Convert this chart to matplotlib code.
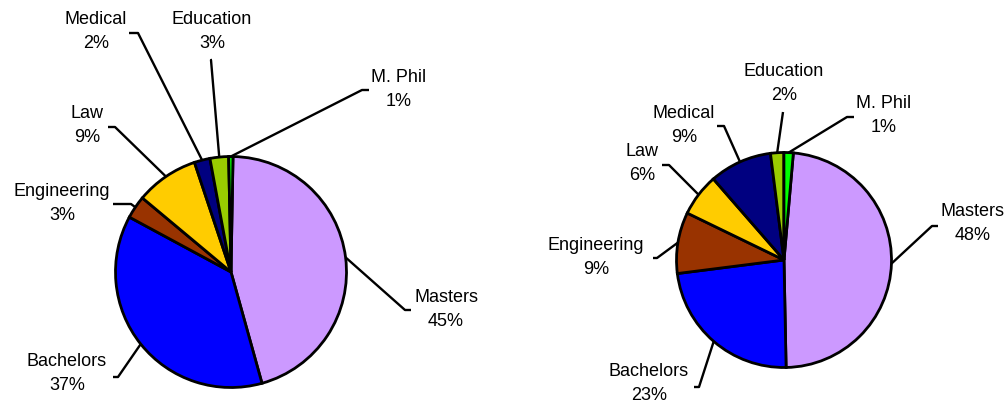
import matplotlib
matplotlib.use("Agg")
import matplotlib.pyplot as plt
import numpy as np

plt.rcParams["font.family"] = ["Liberation Sans", "DejaVu Sans"]

# ---- data ----
categories = ["Masters", "Bachelors", "Engineering", "Law", "Medical", "Education", "M. Phil"]
left_values = [45.4, 37.2, 3.2, 8.8, 2.2, 2.6, 0.6]
right_values = [48.3, 23.3, 9.2, 6.4, 9.4, 2.0, 1.4]
colors = ["#CC99FF", "#0000FF", "#993300", "#FFCC00", "#000080", "#99CC00", "#00FF00"]

# ---- layout (pixel positions, y measured from top) ----
# (text_x, text_y, elbow_x, elbow_y, end_x, end_y)
left_layout = [
    (446, 297, 405, 310, 411, 310),
    (67, 362, 118, 377, 113, 377),
    (62, 192, 131, 204, 113, 204),
    (87, 113, 115, 127, 108, 127),
    (96, 19, 138, 33, 129, 33),
    (212, 19, 211, 60, 212, 60),
    (399, 77, 362, 90, 369, 90),
]
right_layout = [
    (973, 212, 932, 226, 938, 226),
    (649, 372, 699, 387, 694, 387),
    (596, 246, 657, 258, 653, 258),
    (642, 152, 669, 165, 662, 165),
    (684, 113, 724, 126, 717, 126),
    (784, 71, 783, 112, 783, 112),
    (884, 104, 847, 117, 854, 117),
]

W, H = 1008, 404
fig = plt.figure(figsize=(W / 100, H / 100), dpi=100)
ax = fig.add_axes([0, 0, 1, 1])


def draw(values, center_px, radius, startangle, layout):
    cx, cy = center_px[0], H - center_px[1]
    wedges, _ = ax.pie(values, colors=colors, startangle=startangle,
                       counterclock=False, center=(cx, cy), radius=radius,
                       wedgeprops=dict(edgecolor="black", linewidth=2.0))
    total = sum(values)
    for w, name, v, lay in zip(wedges, categories, values, layout):
        tx, ty, ex, ey, hx, hy = lay
        mid = np.deg2rad((w.theta1 + w.theta2) / 2)
        px = cx + radius * np.cos(mid)
        py = cy + radius * np.sin(mid)
        ax.plot([px, ex, hx], [py, H - ey, H - hy], color="black", lw=1.7,
                solid_capstyle="butt", zorder=3)
        ax.text(tx, H - ty, name, ha="center", va="center", fontsize=13, color="black")
        ax.text(tx, H - ty - 24, f"{v / total * 100:.0f}%", ha="center", va="center",
                fontsize=13, color="black")


draw(left_values, (231, 272), 115.5, 89, left_layout)
draw(right_values, (784, 260), 107.5, 85, right_layout)

ax.set_xlim(0, W)
ax.set_ylim(0, H)
ax.set_aspect("equal")
ax.axis("off")
fig.savefig("out.png", dpi=100)
